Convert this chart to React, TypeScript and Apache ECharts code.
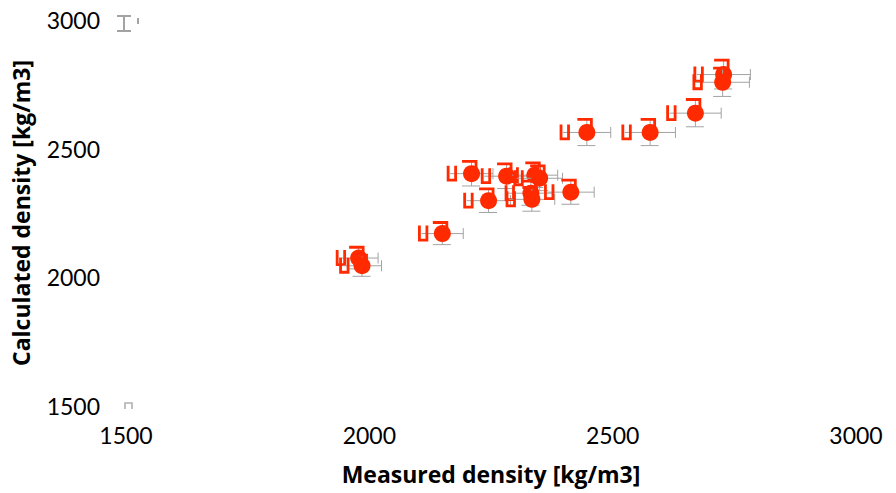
import React, { useEffect, useRef } from "react";
import * as echarts from "echarts";

const measured = [1978, 1985, 2150, 2210, 2282, 2340, 2350, 2245, 2332, 2334, 2414, 2447, 2577, 2670, 2728, 2726];
const calculated = [2075, 2045, 2170, 2403, 2393, 2397, 2385, 2298, 2327, 2303, 2331, 2563, 2563, 2638, 2788, 2758];
const measuredErr = [40, 40, 43, 44, 46, 47, 47, 45, 47, 47, 48, 49, 52, 53, 55, 55];
const calculatedErr = [42, 41, 43, 48, 48, 48, 48, 46, 47, 46, 47, 51, 51, 53, 56, 55];
const cornerMarks = [
  [1500, 3000, 0],
  [1500, 1500, 1],
];
const xTicks = { min: 1500, max: 3000, interval: 500 };
const yTicks = { min: 1500, max: 3000, interval: 500 };

const RED = "#ff2a00";
const GRAY = "#a3a3a3";

export default function App() {
  const ref = useRef<HTMLDivElement>(null);
  useEffect(() => {
    if (!ref.current) return;
    const chart = echarts.init(ref.current, undefined, { renderer: "svg" });
    const data = measured.map((m, i) => [m, calculated[i], measuredErr[i], calculatedErr[i]]);
    const font = "Lato, 'Open Sans', sans-serif";
    const titleFont = "'Open Sans', Lato, sans-serif";
    const fmt = (v: number) => String(v);
    chart.setOption({
      animation: false,
      backgroundColor: "#ffffff",
      grid: { left: 126, right: 40, top: 20, bottom: 87, containLabel: false },
      xAxis: {
        type: "value",
        min: xTicks.min,
        max: xTicks.max,
        interval: xTicks.interval,
        name: "Measured density [kg/m3]",
        nameLocation: "middle",
        nameGap: 56,
        nameTextStyle: { fontFamily: titleFont, fontSize: 23, fontWeight: "bold", color: "#000" },
        axisLine: { show: false },
        axisTick: { show: false },
        splitLine: { show: false },
        axisLabel: { fontFamily: font, fontSize: 23, color: "#000", margin: 17, formatter: fmt },
      },
      yAxis: {
        type: "value",
        min: yTicks.min,
        max: yTicks.max,
        interval: yTicks.interval,
        name: "Calculated density [kg/m3]",
        nameLocation: "middle",
        nameGap: 94,
        nameTextStyle: { fontFamily: titleFont, fontSize: 23, fontWeight: "bold", color: "#000" },
        axisLine: { show: false },
        axisTick: { show: false },
        splitLine: { show: false },
        axisLabel: { fontFamily: font, fontSize: 23, color: "#000", margin: 26, formatter: fmt },
      },
      series: [
        {
          type: "custom",
          clip: false,
          data: cornerMarks,
          renderItem: (params: any, api: any) => {
            const p = api.coord([api.value(0), api.value(1)]);
            const kind = api.value(2);
            const s = { stroke: GRAY, lineWidth: 2, fill: "none" };
            const x = p[0], y = p[1];
            if (kind === 0) {
              return {
                type: "group",
                children: [
                  { type: "line", shape: { x1: x - 9, y1: y - 4, x2: x + 5, y2: y - 4 }, style: s },
                  { type: "line", shape: { x1: x - 9, y1: y + 11, x2: x + 5, y2: y + 11 }, style: s },
                  { type: "line", shape: { x1: x - 2, y1: y - 4, x2: x - 2, y2: y + 11 }, style: s },
                  { type: "line", shape: { x1: x + 12, y1: y - 2, x2: x + 12, y2: y + 4 }, style: s },
                ],
              };
            }
            return {
              type: "polyline",
              shape: { points: [[x - 1, y + 3], [x - 1, y - 3], [x + 6, y - 3], [x + 6, y + 3]] },
              style: { stroke: "#b0b0b0", lineWidth: 1.6, fill: "none" },
            };
          },
        },
        {
          type: "custom",
          clip: false,
          data,
          renderItem: (params: any, api: any) => {
            const x = api.value(0), y = api.value(1), ex = api.value(2), ey = api.value(3);
            const c = api.coord([x, y]);
            const cx = c[0], cy = c[1];
            const xl = api.coord([x - ex, y])[0];
            const xr = api.coord([x + ex, y])[0];
            const yt = api.coord([x, y + ey])[1];
            const yb = api.coord([x, y - ey])[1];
            const g = { stroke: GRAY, lineWidth: 1, fill: "none" };
            const r = { stroke: RED, lineWidth: 2.8, fill: "none" };
            return {
              type: "group",
              children: [
                { type: "line", shape: { x1: xl, y1: cy, x2: xr, y2: cy }, style: g },
                { type: "line", shape: { x1: xr, y1: cy - 5.5, x2: xr, y2: cy + 5.5 }, style: g },
                { type: "line", shape: { x1: cx, y1: yt, x2: cx, y2: yb }, style: g },
                { type: "line", shape: { x1: cx - 9.5, y1: yb, x2: cx + 8.5, y2: yb }, style: g },
                {
                  type: "polyline",
                  shape: { points: [[xl - 2, cy - 8], [xl - 2, cy + 6.5], [xl + 5.5, cy + 6.5], [xl + 5.5, cy - 8]] },
                  style: r,
                },
                {
                  type: "polyline",
                  shape: { points: [[cx - 9.5, yt], [cx + 4.5, yt], [cx + 4.5, cy - 3]] },
                  style: r,
                },
                { type: "circle", shape: { cx, cy, r: 8.5 }, style: { fill: RED } },
              ],
            };
          },
        },
      ],
    });
    return () => chart.dispose();
  }, []);
  return <div ref={ref} style={{ width: 896, height: 493, position: "absolute", left: 0, top: 0 }} />;
}
